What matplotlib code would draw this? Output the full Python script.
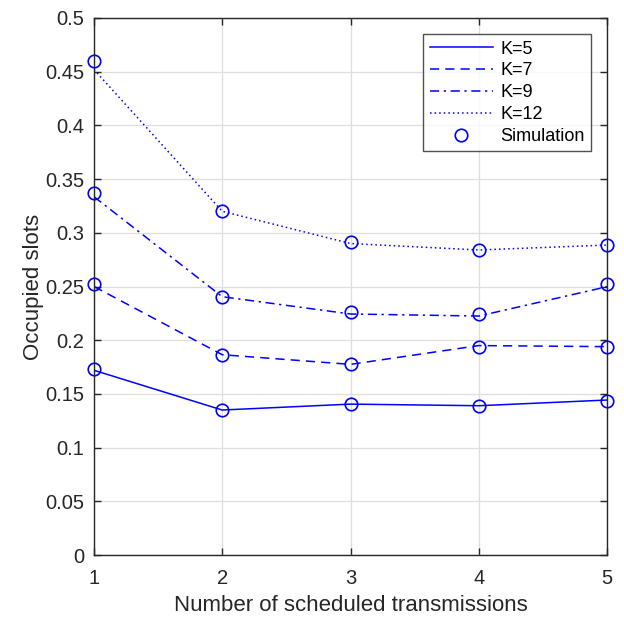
import matplotlib
matplotlib.use("Agg")
import matplotlib.pyplot as plt
from matplotlib.lines import Line2D

x = [1, 2, 3, 4, 5]
# analytical curves
k5 = [0.172, 0.135, 0.1405, 0.139, 0.1443]
k7 = [0.250, 0.1865, 0.1775, 0.195, 0.194]
k9 = [0.3336, 0.2405, 0.2244, 0.2225, 0.2498]
k12 = [0.452, 0.320, 0.290, 0.284, 0.2886]
# simulation points
s5 = [0.1729, 0.135, 0.1403, 0.139, 0.1437]
s7 = [0.252, 0.1865, 0.1775, 0.194, 0.1934]
s9 = [0.3373, 0.2405, 0.2266, 0.2247, 0.2526]
s12 = [0.460, 0.320, 0.2914, 0.284, 0.2886]

labels = ["K=5", "K=7", "K=9", "K=12"]
yticks = [0, 0.05, 0.1, 0.15, 0.2, 0.25, 0.3, 0.35, 0.4, 0.45, 0.5]

plt.rcParams['font.family'] = ['Liberation Sans', 'DejaVu Sans']
fig = plt.figure(figsize=(6.24, 6.2), dpi=100)
ax = fig.add_axes([0.1506, 0.1048, 0.8222, 0.8662])

blue = (0, 0, 1)
styles = ['-', (0, (6, 4)), (0, (6, 3, 1.5, 3)), (0, (1, 2))]
for ys, st, lab in zip([k5, k7, k9, k12], styles, labels):
    ax.plot(x, ys, linestyle=st, color=blue, lw=1.1, label=lab)
for ss in [s5, s7, s9, s12]:
    ax.plot(x, ss, linestyle='none', marker='o', ms=9, mfc='none',
            mec=blue, mew=1.2, clip_on=False)

ax.set_xlim(1, 5)
ax.set_ylim(0, 0.5)
ax.set_xticks(x)
ax.set_yticks(yticks)
ax.set_yticklabels([f"{v:g}" for v in yticks])
ax.grid(True, color=(0.87, 0.87, 0.87), lw=0.9)
ax.set_axisbelow(True)
dark = (0.15, 0.15, 0.15)
for sp in ax.spines.values():
    sp.set_color(dark)
    sp.set_linewidth(1.0)
ax.tick_params(direction='in', top=True, right=True, colors=dark,
               labelsize=14.5, length=5, width=1.0)
ax.tick_params(axis='x', pad=10)
ax.tick_params(axis='y', pad=7)
ax.set_xlabel("Number of scheduled transmissions", fontsize=16, color=dark, labelpad=5)
ax.set_ylabel("Occupied slots", fontsize=16, color=dark, labelpad=1)

handles, labs = ax.get_legend_handles_labels()
handles.append(Line2D([], [], linestyle='none', marker='o', ms=9, mfc='none', mec=blue, mew=1.2))
labs.append("Simulation")
leg = ax.legend(handles, labs, loc='upper right', fontsize=13, frameon=True,
                fancybox=False, edgecolor=dark, handlelength=3.5,
                borderaxespad=0.9, labelspacing=0.27, handletextpad=0.4,
                borderpad=0.35)
leg.get_frame().set_linewidth(1.0)

fig.savefig("out.png", dpi=100)
